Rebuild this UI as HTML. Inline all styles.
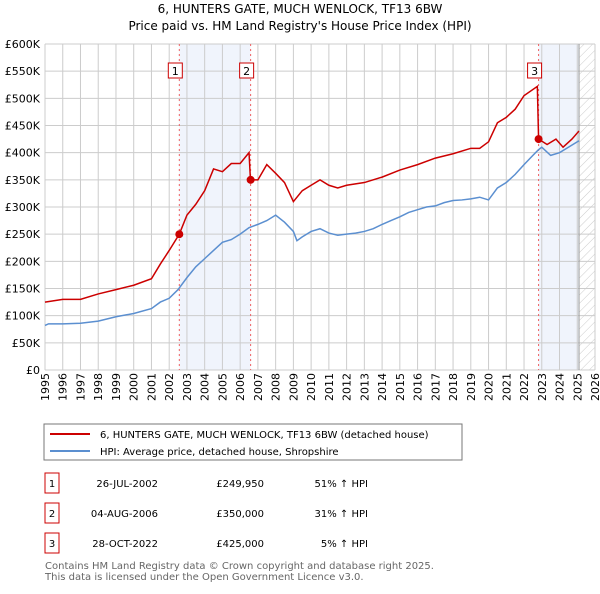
<!DOCTYPE html>
<html><head><meta charset="utf-8"><style>
body{margin:0;background:#fff;font-family:"DejaVu Sans","Liberation Sans",sans-serif;}
svg text{font-family:"DejaVu Sans","Liberation Sans",sans-serif;}
</style></head><body>
<svg id="c" width="600" height="590" viewBox="0 0 600 590" xmlns="http://www.w3.org/2000/svg">
<defs><pattern id="hatch" width="6" height="6" patternUnits="userSpaceOnUse" patternTransform="rotate(45)"><line x1="0" y1="0" x2="0" y2="6" stroke="#ccc" stroke-width="1"/></pattern></defs>
<text x="300" y="13" text-anchor="middle" font-size="12">6, HUNTERS GATE, MUCH WENLOCK, TF13 6BW</text>
<text x="300" y="30" text-anchor="middle" font-size="12">Price paid vs. HM Land Registry's House Price Index (HPI)</text>
<g id="plot"></g>
<rect x="44" y="424" width="418" height="36" fill="#fff" stroke="#777"/>
<g><line x1="50" y1="434" x2="90" y2="434" stroke="#cc0000" stroke-width="2"/><text x="100" y="438" font-size="10">6, HUNTERS GATE, MUCH WENLOCK, TF13 6BW (detached house)</text></g>
<g><line x1="50" y1="451" x2="90" y2="451" stroke="#5b8fd0" stroke-width="2"/><text x="100" y="455" font-size="10">HPI: Average price, detached house, Shropshire</text></g>
<g id="table" font-size="10"></g>
<text x="45" y="569" font-size="10" fill="#666">Contains HM Land Registry data © Crown copyright and database right 2025.</text>
<text x="45" y="580" font-size="10" fill="#666">This data is licensed under the Open Government Licence v3.0.</text>
</svg>
<script>
const yTicks=[0,50,100,150,200,250,300,350,400,450,500,550,600];
const yTickLabels=["£0","£50K","£100K","£150K","£200K","£250K","£300K","£350K","£400K","£450K","£500K","£550K","£600K"];
const years=[1995,1996,1997,1998,1999,2000,2001,2002,2003,2004,2005,2006,2007,2008,2009,2010,2011,2012,2013,2014,2015,2016,2017,2018,2019,2020,2021,2022,2023,2024,2025,2026];
const hpiT=[1995,1995.2,1996,1997,1998,1999,2000,2001,2001.5,2002,2002.5,2003,2003.5,2004,2004.5,2005,2005.5,2006,2006.5,2007,2007.5,2008,2008.5,2009,2009.2,2009.5,2010,2010.5,2011,2011.5,2012,2012.5,2013,2013.5,2014,2014.5,2015,2015.5,2016,2016.5,2017,2017.5,2018,2018.5,2019,2019.5,2020,2020.5,2021,2021.5,2022,2022.5,2022.8,2023,2023.5,2024,2024.5,2025.1];
const hpiV=[82,85,85,86,90,98,104,113,125,132,148,170,190,205,220,235,240,250,262,268,275,285,272,255,238,245,255,260,252,248,250,252,255,260,268,275,282,290,295,300,302,308,312,313,315,318,313,335,345,360,378,395,405,410,395,400,410,422];
const redT=[1995,1996,1997,1998,1999,2000,2001,2001.5,2002,2002.57,2003,2003.5,2004,2004.5,2005,2005.5,2006,2006.5,2006.58,2007,2007.5,2008,2008.5,2009,2009.5,2010,2010.5,2011,2011.5,2012,2013,2014,2015,2016,2017,2018,2019,2019.5,2020,2020.5,2021,2021.5,2022,2022.75,2022.82,2023.3,2023.8,2024.2,2024.7,2025.1];
const redV=[125,130,130,140,148,156,168,195,220,250,285,305,330,370,365,380,380,400,350,350,378,362,345,310,330,340,350,340,335,340,345,355,368,378,390,398,408,408,420,455,465,480,505,522,425,415,425,410,425,440];
const saleT=[2002.57,2006.59,2022.82];
const saleV=[249.95,350,425];
const saleIds=["1","2","3"];
const saleDates=["26-JUL-2002","04-AUG-2006","28-OCT-2022"];
const salePrices=["£249,950","£350,000","£425,000"];
const salePct=["51% ↑ HPI","31% ↑ HPI","5% ↑ HPI"];
const NS="http://www.w3.org/2000/svg";
const X0=45,X1=595,Y0=370,Y1=44;
const x=t=>X0+(t-1995)/(2026-1995)*(X1-X0);
const y=v=>Y0-v/600*(Y0-Y1);
const g=document.getElementById('plot');
function mk(tag,attrs,parent){const e=document.createElementNS(NS,tag);for(const k in attrs)e.setAttribute(k,attrs[k]);(parent||g).appendChild(e);return e;}
let e;
e=mk('rect',{x:x(saleT[0]),y:Y1,width:x(saleT[1])-x(saleT[0]),height:Y0-Y1,fill:'#f0f4fc'});


e=mk('rect',{x:x(saleT[2]),y:Y1,width:x(2025.1)-x(saleT[2]),height:Y0-Y1,fill:'#f0f4fc'});


e=mk('rect',{x:x(2025.1),y:Y1,width:X1-x(2025.1),height:Y0-Y1,fill:'url(#hatch)'});


years.forEach(yr=>{
 e=mk('line',{x1:x(yr),x2:x(yr),y1:Y1,y2:Y0,stroke:'#ccc'});
 
 
 e=mk('text',{x:0,y:0,transform:`translate(${x(yr)+4},373) rotate(-90)`,'text-anchor':'end','font-size':'11'});
 e.textContent=yr;
 
 
});
yTicks.forEach((v,i)=>{
 e=mk('line',{x1:X0,x2:X1,y1:y(v),y2:y(v),stroke:'#ccc'});
 
 
 e=mk('text',{x:40,y:y(v)+4,'text-anchor':'end','font-size':'11'});
 e.textContent=yTickLabels[i];
 
 
});
e=mk('line',{x1:x(2025.1),x2:x(2025.1),y1:Y1,y2:Y0,stroke:'#999'});


saleT.forEach((t,i)=>{
 e=mk('line',{x1:x(t),x2:x(t),y1:Y1,y2:Y0,stroke:'#f06060','stroke-dasharray':'2,3'});
 
 
});
e=mk('polyline',{points:hpiT.map((t,i)=>x(t)+','+y(hpiV[i])).join(' '),fill:'none',stroke:'#5b8fd0','stroke-width':1.5});


e=mk('polyline',{points:redT.map((t,i)=>x(t)+','+y(redV[i])).join(' '),fill:'none',stroke:'#cc0000','stroke-width':1.5});


saleT.forEach((t,i)=>{
 e=mk('circle',{cx:x(t),cy:y(saleV[i]),r:4,fill:'#cc0000'});
 
 
 const bx=x(t)-14*0+(-7);
 e=mk('rect',{x:x(t)-7-4,y:63,width:14,height:15,fill:'#fff',stroke:'#cc0000'});
 
 
 e=mk('text',{x:x(t)-4,y:75,'text-anchor':'middle','font-size':'11'});
 e.textContent=saleIds[i];
 
 
});
const tb=document.getElementById('table');
const rowY=[483,513,543];
saleIds.forEach((id,i)=>{
 const ry=rowY[i];
 e=mk('rect',{x:45,y:ry-10,width:14,height:20,fill:'#fff',stroke:'#cc0000'},tb);
 
 
 const cells=[[52,id,'middle'],[158,saleDates[i],'end'],[264,salePrices[i],'end'],[368,salePct[i],'end']];
 cells.forEach(c=>{
  e=mk('text',{x:c[0],y:ry+4,'text-anchor':c[2]},tb);
  e.textContent=c[1];
  
  
 });
});
</script>
</body></html>
